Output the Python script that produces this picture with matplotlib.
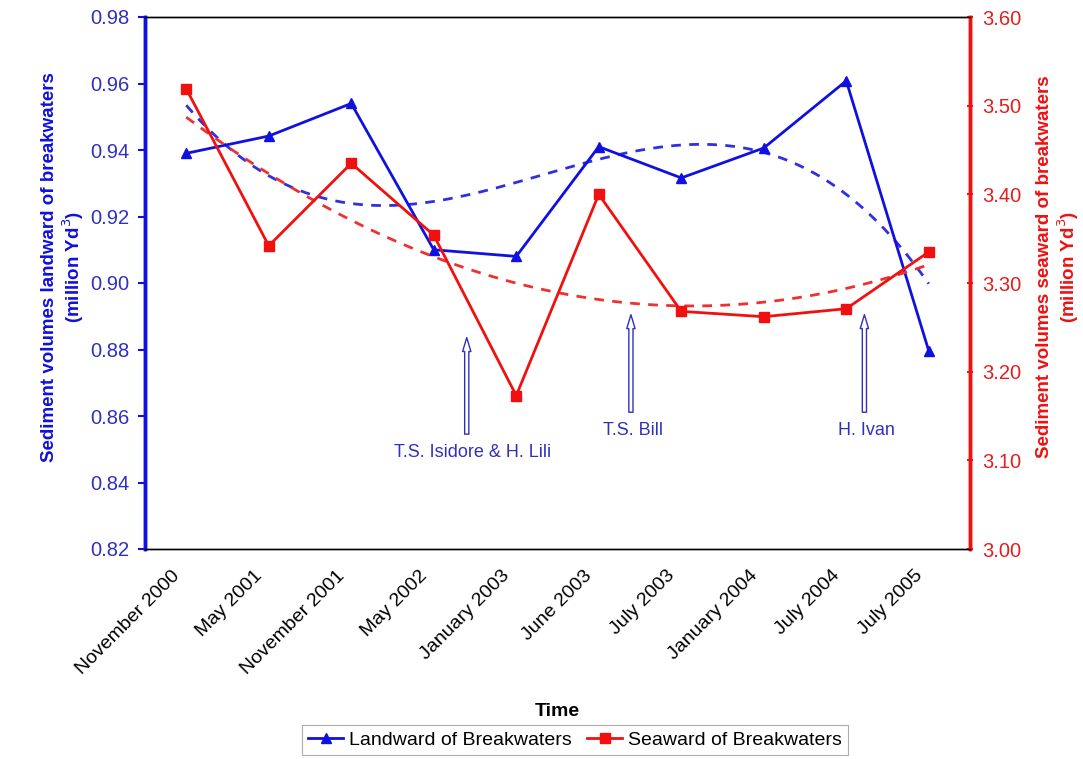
import numpy as np
import matplotlib
matplotlib.use("Agg")
import matplotlib.pyplot as plt
from matplotlib.transforms import ScaledTranslation, blended_transform_factory

plt.rcParams['font.family'] = ['Liberation Sans', 'DejaVu Sans']

categories = ["November 2000", "May 2001", "November 2001", "May 2002", "January 2003",
              "June 2003", "July 2003", "January 2004", "July 2004", "July 2005"]
landward = [0.939, 0.9442, 0.954, 0.910, 0.908, 0.941, 0.9316, 0.9406, 0.9608, 0.8796]
seaward = [3.519, 3.342, 3.435, 3.354, 3.173, 3.400, 3.268, 3.262, 3.271, 3.335]

events = ["T.S. Isidore & H. Lili", "T.S. Bill", "H. Ivan"]
event_pos = [3.40, 5.39, 8.22]

BLUE = "#1010e0"
RED = "#f01010"

fig = plt.figure(figsize=(10.83, 7.59), dpi=100)
ax = fig.add_axes([145/1083, 1-549/759, 825/1083, 532/759])
ax2 = ax.twinx()

x = np.arange(len(categories))

# trendlines
xs = np.linspace(0, len(categories)-1, 200)
pb = np.polyfit(x, landward, 3)
pr = np.polyfit(x, seaward, 2)
ax.plot(xs, np.polyval(pb, xs), ls=(0, (3.5, 3)), color="#3030e0", lw=2)
ax2.plot(xs, np.polyval(pr, xs), ls=(0, (3.5, 3)), color="#f03030", lw=2)

l1, = ax.plot(x, landward, color=BLUE, lw=2, marker="^", ms=7.5, label="Landward of Breakwaters")
l2, = ax2.plot(x, seaward, color=RED, lw=2, marker="s", ms=7.5, label="Seaward of Breakwaters")

ax.set_xlim(-0.5, len(categories)-0.5)
ax.set_ylim(0.82, 0.98)
ax.set_yticks(np.arange(0.82, 0.981, 0.02))
ax.yaxis.set_major_formatter(matplotlib.ticker.FormatStrFormatter("%.2f"))
ax2.set_ylim(3.0, 3.6)
ax2.set_yticks(np.arange(3.0, 3.601, 0.1))
ax2.yaxis.set_major_formatter(matplotlib.ticker.FormatStrFormatter("%.2f"))

ax.set_xticks(x)
ax.set_xticklabels([])
ax.tick_params(axis="x", length=0)
trans = blended_transform_factory(ax.transData, ax.transAxes) + \
    ScaledTranslation(-15/100, -18/100, fig.dpi_scale_trans)
for i, cat in enumerate(categories):
    ax.text(i, 0, cat, transform=trans, rotation=45, rotation_mode="anchor",
            ha="right", va="top", fontsize=14, color="black")

ax.tick_params(axis="y", colors=BLUE, labelcolor="#3030c0", labelsize=14.5, length=5, width=1.5,
               direction="out", pad=6)
ax2.tick_params(axis="y", colors=RED, labelcolor="#e02020", labelsize=14.5, length=5, width=1.5,
                direction="inout", pad=6)

for a in (ax, ax2):
    a.spines["left"].set_color(BLUE)
    a.spines["left"].set_linewidth(2.5)
    a.spines["right"].set_color(RED)
    a.spines["right"].set_linewidth(2.5)
    a.spines["top"].set_color("black")
    a.spines["top"].set_linewidth(1)
    a.spines["bottom"].set_color("black")
    a.spines["bottom"].set_linewidth(1)

ax.set_ylabel("Sediment volumes landward of breakwaters\n(million Yd$^3$)", color=BLUE,
              fontsize=13.5, fontweight="bold", linespacing=1.15)
ax.yaxis.set_label_coords(-0.071, 0.53)
ax2.set_ylabel("Sediment volumes seaward of breakwaters\n(million Yd$^3$)", color=RED,
               fontsize=13.5, fontweight="bold", linespacing=1.15)
ax2.yaxis.set_label_coords(1.080, 0.53)
ax.set_xlabel("Time", fontsize=14, fontweight="bold")
ax.xaxis.set_label_coords(0.5, -0.29)

# hurricane arrows
arrow_tops = [0.8844, 0.8913, 0.8913]
arrow_bots = [0.8537, 0.8603, 0.8603]
for xp, top, bot, lab in zip(event_pos, arrow_tops, arrow_bots, events):
    ax.annotate("", xy=(xp, top), xytext=(xp, bot),
                arrowprops=dict(arrowstyle="simple,head_width=0.6,head_length=1.0,tail_width=0.3",
                                fc="white", ec="#3030c0", lw=1))
    ax.text(xp + (0.07 if lab.startswith("T.S. I") else 0.02), bot - 0.0022, lab,
            ha="center", va="top", color="#3030c0", fontsize=13)

leg = fig.legend(handles=[l1, l2], loc="center", bbox_to_anchor=(575/1083, 1-740/759),
                 ncol=2, frameon=True, fontsize=14, handlelength=1.8, columnspacing=0.8,
                 handletextpad=0.3, borderpad=0.3, fancybox=False, edgecolor="#999999")
leg.get_frame().set_linewidth(0.8)

fig.savefig("out.png", dpi=100)
